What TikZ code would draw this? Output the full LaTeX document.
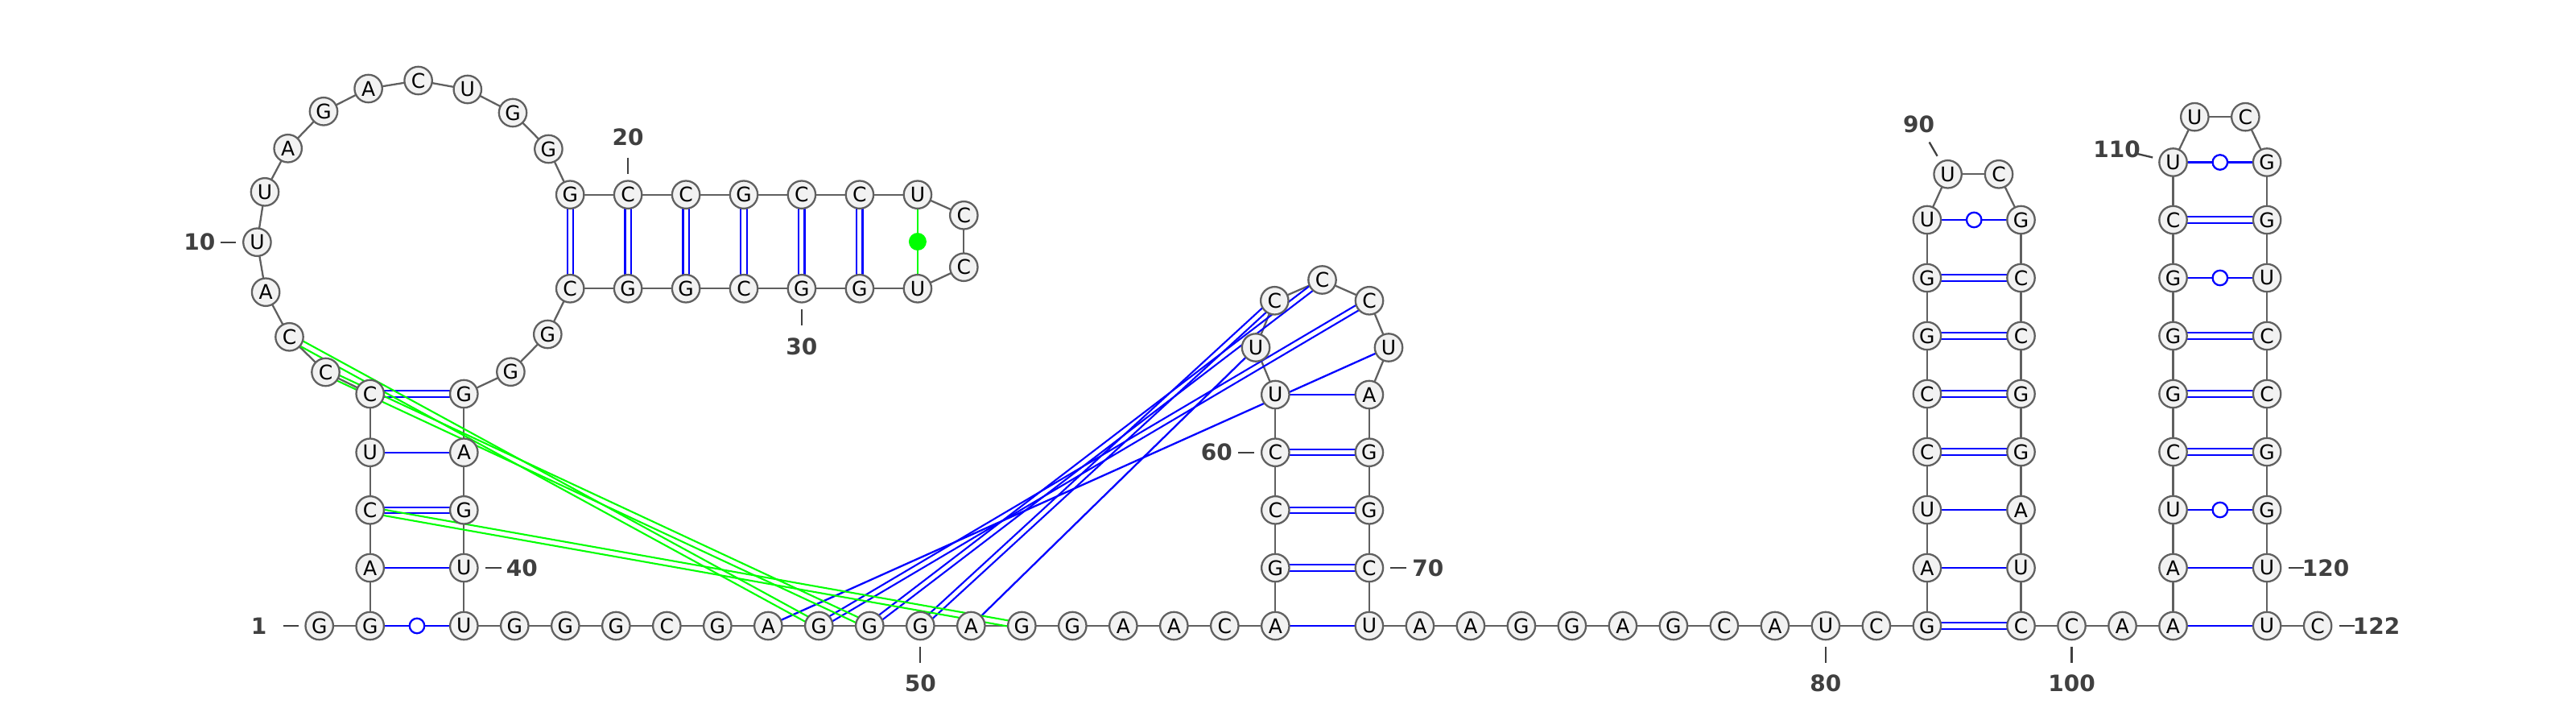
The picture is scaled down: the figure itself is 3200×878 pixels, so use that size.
\documentclass[tikz,border=0pt]{standalone}
\usepackage{fontspec}
\setmainfont{DejaVu Sans}
\usetikzlibrary{calc}
\pgfdeclarelayer{bg}
\pgfsetlayers{bg,main}
\definecolor{ntfill}{RGB}{242,242,242}
\definecolor{ntdraw}{RGB}{96,96,96}
\definecolor{numcol}{RGB}{64,64,64}
\definecolor{bpblue}{RGB}{0,0,255}
\definecolor{bpgreen}{RGB}{0,255,0}
\newcommand\dbp[3]{%
  \draw[#1] ($(#2.center)!3.6pt!90:(#3.center)$) -- ($(#3.center)!3.6pt!-90:(#2.center)$);
  \draw[#1] ($(#2.center)!3.6pt!-90:(#3.center)$) -- ($(#3.center)!3.6pt!90:(#2.center)$);}
\begin{document}
\begin{tikzpicture}[x=1pt,y=-1pt,
  nt/.style={circle,draw=ntdraw,fill=ntfill,line width=2.3pt,minimum size=34.4pt,inner sep=0pt,font=\fontsize{25}{25}\selectfont},
  bb/.style={draw=ntdraw,line width=2.3pt},
  bpb/.style={draw=bpblue,line width=2.3pt},
  bpbd/.style={draw=bpblue,line width=2.1pt},
  bpg/.style={draw=bpgreen,line width=2.3pt},
  bpgd/.style={draw=bpgreen,line width=2.1pt},
  wob/.style={circle,draw=bpblue,fill=white,line width=2.3pt,minimum size=18.5pt,inner sep=0pt},
  gdot/.style={circle,fill=bpgreen,minimum size=22pt,inner sep=0pt},
  numtick/.style={draw=numcol,line width=2.3pt},
  numlbl/.style={text=numcol,font=\fontsize{28}{28}\selectfont\bfseries,inner sep=0pt}
]
\useasboundingbox (0,0) rectangle (3200,878);
% ---- nucleotides ----
\node[nt] (n1) at (396.7,777) {G};
\node[nt] (n2) at (459.7,777) {G};
\node[nt] (n3) at (459.7,705) {A};
\node[nt] (n4) at (459.7,633.3) {C};
\node[nt] (n5) at (459.7,561.7) {U};
\node[nt] (n6) at (459.7,489) {C};
\node[nt] (n7) at (404.5,462) {C};
\node[nt] (n8) at (359.5,418.3) {C};
\node[nt] (n9) at (330.1,362.7) {A};
\node[nt] (n10) at (319.4,300.7) {U};
\node[nt] (n11) at (329,238.3) {U};
\node[nt] (n12) at (357.7,184.3) {A};
\node[nt] (n13) at (402,138.3) {G};
\node[nt] (n14) at (457.6,110) {A};
\node[nt] (n15) at (519.6,100) {C};
\node[nt] (n16) at (580.8,111) {U};
\node[nt] (n17) at (637,140) {G};
\node[nt] (n18) at (681.4,185) {G};
\node[nt] (n19) at (708.2,241.7) {G};
\node[nt] (n20) at (780.1,241.7) {C};
\node[nt] (n21) at (852.1,241.7) {C};
\node[nt] (n22) at (924,241.7) {G};
\node[nt] (n23) at (995.9,241.7) {C};
\node[nt] (n24) at (1067.9,241.7) {C};
\node[nt] (n25) at (1139.9,241.7) {U};
\node[nt] (n26) at (1197.3,267.3) {C};
\node[nt] (n27) at (1197.3,331.7) {C};
\node[nt] (n28) at (1139.9,358.3) {U};
\node[nt] (n29) at (1067.9,358.3) {G};
\node[nt] (n30) at (995.9,358.3) {G};
\node[nt] (n31) at (924,358.3) {C};
\node[nt] (n32) at (852.1,358.3) {G};
\node[nt] (n33) at (780.1,358.3) {G};
\node[nt] (n34) at (708.2,358.3) {C};
\node[nt] (n35) at (680.3,415) {G};
\node[nt] (n36) at (634.4,461.7) {G};
\node[nt] (n37) at (576.3,489) {G};
\node[nt] (n38) at (576.3,561.7) {A};
\node[nt] (n39) at (576.3,633.3) {G};
\node[nt] (n40) at (576.3,705) {U};
\node[nt] (n41) at (576.3,777) {U};
\node[nt] (n42) at (639.3,777) {G};
\node[nt] (n43) at (702.3,777) {G};
\node[nt] (n44) at (765.3,777) {G};
\node[nt] (n45) at (828.3,777) {C};
\node[nt] (n46) at (891.3,777) {G};
\node[nt] (n47) at (954.3,777) {A};
\node[nt] (n48) at (1017.3,777) {G};
\node[nt] (n49) at (1080.3,777) {G};
\node[nt] (n50) at (1143.3,777) {G};
\node[nt] (n51) at (1206.3,777) {A};
\node[nt] (n52) at (1269.3,777) {G};
\node[nt] (n53) at (1332.3,777) {G};
\node[nt] (n54) at (1395.3,777) {A};
\node[nt] (n55) at (1458.3,777) {A};
\node[nt] (n56) at (1521.3,777) {C};
\node[nt] (n57) at (1584.3,777) {A};
\node[nt] (n58) at (1584.3,705) {G};
\node[nt] (n59) at (1584.3,633.3) {C};
\node[nt] (n60) at (1584.3,561.7) {C};
\node[nt] (n61) at (1584.3,490) {U};
\node[nt] (n62) at (1560,431.5) {U};
\node[nt] (n63) at (1583.3,373.3) {C};
\node[nt] (n64) at (1642.5,347.5) {C};
\node[nt] (n65) at (1701,373.3) {C};
\node[nt] (n66) at (1725,431.5) {U};
\node[nt] (n67) at (1700.9,490) {A};
\node[nt] (n68) at (1700.9,561.7) {G};
\node[nt] (n69) at (1700.9,633.3) {G};
\node[nt] (n70) at (1700.9,705) {C};
\node[nt] (n71) at (1700.9,777) {U};
\node[nt] (n72) at (1763.9,777) {A};
\node[nt] (n73) at (1826.9,777) {A};
\node[nt] (n74) at (1889.9,777) {G};
\node[nt] (n75) at (1952.9,777) {G};
\node[nt] (n76) at (2015.9,777) {A};
\node[nt] (n77) at (2078.9,777) {G};
\node[nt] (n78) at (2141.9,777) {C};
\node[nt] (n79) at (2204.9,777) {A};
\node[nt] (n80) at (2267.9,777) {U};
\node[nt] (n81) at (2330.9,777) {C};
\node[nt] (n82) at (2393.9,777) {G};
\node[nt] (n83) at (2393.9,705) {A};
\node[nt] (n84) at (2393.9,633) {U};
\node[nt] (n85) at (2393.9,561) {C};
\node[nt] (n86) at (2393.9,489) {C};
\node[nt] (n87) at (2393.9,417) {G};
\node[nt] (n88) at (2393.9,345) {G};
\node[nt] (n89) at (2393.9,273) {U};
\node[nt] (n90) at (2419.6,216.3) {U};
\node[nt] (n91) at (2483,216.3) {C};
\node[nt] (n92) at (2510.5,273) {G};
\node[nt] (n93) at (2510.5,345) {C};
\node[nt] (n94) at (2510.5,417) {C};
\node[nt] (n95) at (2510.5,489) {G};
\node[nt] (n96) at (2510.5,561) {G};
\node[nt] (n97) at (2510.5,633) {A};
\node[nt] (n98) at (2510.5,705) {U};
\node[nt] (n99) at (2510.5,777) {C};
\node[nt] (n100) at (2573.5,777) {C};
\node[nt] (n101) at (2636.5,777) {A};
\node[nt] (n102) at (2699.5,777) {A};
\node[nt] (n103) at (2699.5,705) {A};
\node[nt] (n104) at (2699.5,633) {U};
\node[nt] (n105) at (2699.5,561) {C};
\node[nt] (n106) at (2699.5,489) {G};
\node[nt] (n107) at (2699.5,417) {G};
\node[nt] (n108) at (2699.5,345) {G};
\node[nt] (n109) at (2699.5,273) {C};
\node[nt] (n110) at (2699.5,201.5) {U};
\node[nt] (n111) at (2726.3,145.2) {U};
\node[nt] (n112) at (2789.3,145.2) {C};
\node[nt] (n113) at (2816.1,201.5) {G};
\node[nt] (n114) at (2816.1,273) {G};
\node[nt] (n115) at (2816.1,345) {U};
\node[nt] (n116) at (2816.1,417) {C};
\node[nt] (n117) at (2816.1,489) {C};
\node[nt] (n118) at (2816.1,561) {G};
\node[nt] (n119) at (2816.1,633) {G};
\node[nt] (n120) at (2816.1,705) {U};
\node[nt] (n121) at (2816.1,777) {U};
\node[nt] (n122) at (2879.1,777) {C};
% ---- lines under the nucleotides ----
\begin{pgfonlayer}{bg}
  \foreach \i [evaluate=\i as \j using int(\i+1)] in {1,...,121}
    \draw[bb] (n\i.center) -- (n\j.center);
  \foreach \a/\b in {3/40,5/38,57/71,61/67,83/98,84/97,102/121,103/120,47/66,51/62,
                     2/41,89/92,104/119,108/115,110/113}
    \draw[bpb] (n\a.center) -- (n\b.center);
  \foreach \a/\b in {4/39,6/37,19/34,20/33,21/32,22/31,23/30,24/29,58/70,59/69,60/68,
                     82/99,85/96,86/95,87/94,88/93,105/118,106/117,107/116,109/114,
                     48/65,49/64,50/63}
    {\dbp{bpbd}{n\a}{n\b}}
  \draw[bpg] (n25.center) -- (n28.center);
  \foreach \a/\b in {8/48,7/49,4/52}
    {\dbp{bpgd}{n\a}{n\b}}
\end{pgfonlayer}
% ---- pair symbols ----
\foreach \a/\b in {2/41,89/92,104/119,108/115,110/113}
  \node[wob] (w\a) at ($(n\a.center)!0.5!(n\b.center)$) {};
\node[gdot] (g25) at ($(n25.center)!0.5!(n28.center)$) {};
% ---- numbering ----
\draw[numtick] ($(n1.center)+(-45,0)$) -- ($(n1.center)+(-26,0)$);
\node[numlbl] (l1) at ($(n1.center)+(-75,0)$) {1};
\draw[numtick] ($(n10.center)+(-45,0)$) -- ($(n10.center)+(-26,0)$);
\node[numlbl] (l10) at ($(n10.center)+(-71.5,0)$) {10};
\draw[numtick] ($(n20.center)+(0,-46)$) -- ($(n20.center)+(0,-26)$);
\node[numlbl] (l20) at ($(n20.center)+(0,-71.7)$) {20};
\draw[numtick] ($(n30.center)+(0,26)$) -- ($(n30.center)+(0,46)$);
\node[numlbl] (l30) at ($(n30.center)+(0,71.7)$) {30};
\draw[numtick] ($(n40.center)+(26.5,0)$) -- ($(n40.center)+(46.5,0)$);
\node[numlbl] (l40) at ($(n40.center)+(72,0)$) {40};
\draw[numtick] ($(n50.center)+(0,26)$) -- ($(n50.center)+(0,46)$);
\node[numlbl] (l50) at ($(n50.center)+(0,71.7)$) {50};
\draw[numtick] ($(n60.center)+(-46.5,0)$) -- ($(n60.center)+(-26.5,0)$);
\node[numlbl] (l60) at ($(n60.center)+(-73,0)$) {60};
\draw[numtick] ($(n70.center)+(26.5,0)$) -- ($(n70.center)+(46.5,0)$);
\node[numlbl] (l70) at ($(n70.center)+(73,0)$) {70};
\draw[numtick] ($(n80.center)+(0,26)$) -- ($(n80.center)+(0,46)$);
\node[numlbl] (l80) at ($(n80.center)+(0,71.7)$) {80};
\draw[numtick] ($(n90.center)+(-13,-22.5)$) -- ($(n90.center)+(-23,-39.8)$);
\node[numlbl] (l90) at ($(n90.center)+(-36,-62.4)$) {90};
\draw[numtick] ($(n100.center)+(0,26)$) -- ($(n100.center)+(0,46)$);
\node[numlbl] (l100) at ($(n100.center)+(0,71.7)$) {100};
\draw[numtick] ($(n110.center)+(-25.3,-6)$) -- ($(n110.center)+(-44.8,-10.6)$);
\node[numlbl] (l110) at ($(n110.center)+(-70,-16.6)$) {110};
\draw[numtick] ($(n120.center)+(26.5,0)$) -- ($(n120.center)+(45.5,0)$);
\node[numlbl] (l120) at ($(n120.center)+(73,0)$) {120};
\draw[numtick] ($(n122.center)+(26.5,0)$) -- ($(n122.center)+(45.5,0)$);
\node[numlbl] (l122) at ($(n122.center)+(73,0)$) {122};
\end{tikzpicture}
\end{document}
